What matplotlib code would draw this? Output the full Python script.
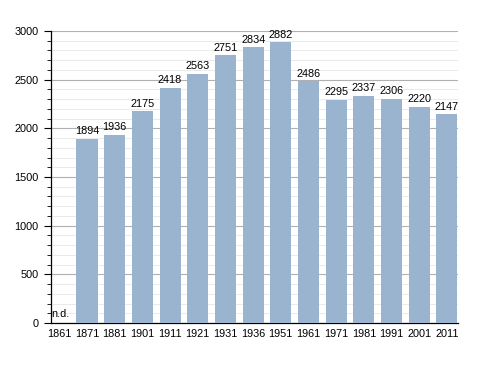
import matplotlib.pyplot as plt
import numpy as np
from matplotlib.ticker import MultipleLocator

years = ["1861", "1871", "1881", "1901", "1911", "1921", "1931", "1936",
         "1951", "1961", "1971", "1981", "1991", "2001", "2011"]
population = [np.nan, 1894, 1936, 2175, 2418, 2563, 2751, 2834,
              2882, 2486, 2295, 2337, 2306, 2220, 2147]

plt.rcParams["font.family"] = "Liberation Sans"

fig = plt.figure(figsize=(4.88, 3.73), dpi=100)
ax = fig.add_axes([0.1035, 0.134, 0.834, 0.783])

x = np.arange(len(years))
vals = np.nan_to_num(population)
ax.bar(x, vals, width=0.765, color="#9ab3cf", zorder=3)

for xi, v in zip(x, population):
    if np.isnan(v):
        ax.text(xi - 0.28, 40, "n.d.", fontsize=7.8, ha="left", va="bottom", zorder=4)
    else:
        ax.text(xi, v + 25, f"{int(v)}", fontsize=7.8, ha="center", va="bottom", zorder=4)

ax.set_xlim(-0.32, len(years) - 1 + 0.383)
ax.set_ylim(0, 3000)
ax.set_xticks(x)
ax.set_xticklabels(years, fontsize=7.8)
ax.yaxis.set_major_locator(MultipleLocator(500))
ax.yaxis.set_minor_locator(MultipleLocator(100))
ax.tick_params(axis="y", which="major", length=5, width=0.8, labelsize=7.8)
ax.tick_params(axis="y", which="minor", length=3, width=0.6)
ax.tick_params(axis="x", length=0, pad=4)

ax.grid(True, which="major", axis="y", color="#b0b0b0", lw=0.8, zorder=1)
ax.grid(True, which="minor", axis="y", color="#e6e6e6", lw=0.6, zorder=0)
for s in ("top", "right"):
    ax.spines[s].set_visible(False)
ax.spines["left"].set_linewidth(0.9)
ax.spines["bottom"].set_linewidth(0.9)

fig.savefig("out.png", dpi=100)
